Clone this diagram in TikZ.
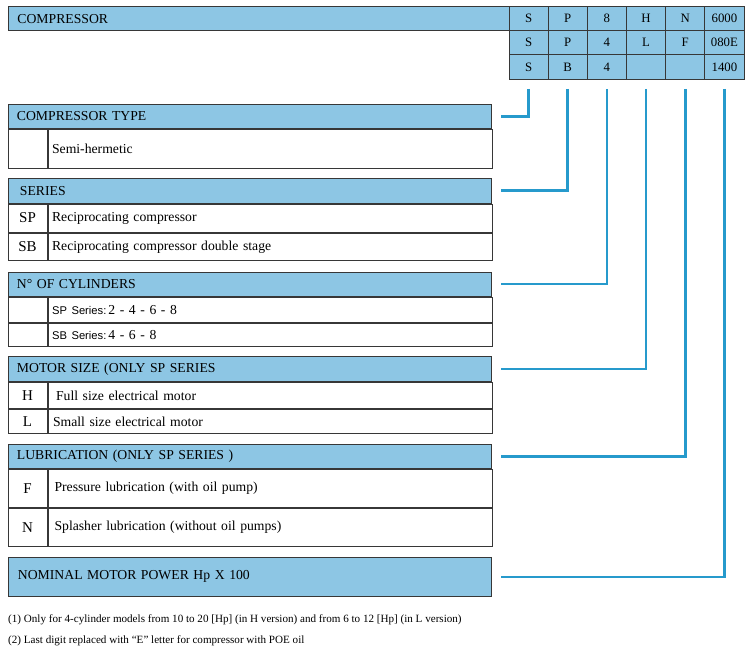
\documentclass[tikz,border=0pt]{standalone}
\usepackage{fontspec}
\setmainfont{Liberation Serif}
\newfontfamily\arialfam{Liberation Sans}
\usepackage{tikz}
\usetikzlibrary{positioning}
\definecolor{hdrblue}{RGB}{141,198,228}
\definecolor{linkblue}{RGB}{38,154,204}
\definecolor{edgegray}{RGB}{55,55,55}

\begin{document}
\begin{tikzpicture}[x=1pt,y=-1pt,
                    hdr/.style={draw=edgegray,line width=0.9pt,fill=hdrblue,anchor=north west,minimum width=483.5pt,text width=465.5pt,inner xsep=9pt,inner ysep=0pt,align=left,font=\fontsize{13.7}{15}\selectfont},
                    keycell/.style={draw=edgegray,line width=0.9pt,minimum width=39.2pt,inner sep=0pt,font=\fontsize{15}{17}\selectfont},
                    desc/.style={draw=edgegray,line width=0.9pt,minimum width=444.3pt,text width=436.3pt,inner xsep=4pt,inner ysep=0pt,align=left,font=\fontsize{13.7}{15}\selectfont},
                    cell/.style={draw=edgegray,line width=0.9pt,fill=hdrblue,minimum width=39.17pt,minimum height=24.43pt,inner sep=0pt,font=\fontsize{12.8}{14}\selectfont},
                    link/.style={draw=linkblue,line width=2.6pt},
                    note/.style={anchor=west,inner sep=0pt,font=\fontsize{11.1}{13}\selectfont}]
                    \useasboundingbox (0,0) rectangle (750,661);
                    \node [hdr,minimum width=501pt,text width=483pt,minimum height=24.5pt] (topbar) at (8,6) {COMPRESSOR};
                    \node [cell] (tS1) at (528.6,18.2) {S};
                    \node [cell] (tP1) at (567.75,18.2) {P};
                    \node [cell] (tC1) at (606.9,18.2) {8};
                    \node [cell] (tM1) at (646.1,18.2) {H};
                    \node [cell] (tL1) at (685.25,18.2) {N};
                    \node [cell] (tW1) at (724.4,18.2) {6000};
                    \node [cell] (tS2) at (528.6,42.6) {S};
                    \node [cell] (tP2) at (567.75,42.6) {P};
                    \node [cell] (tC2) at (606.9,42.6) {4};
                    \node [cell] (tM2) at (646.1,42.6) {L};
                    \node [cell] (tL2) at (685.25,42.6) {F};
                    \node [cell] (tW2) at (724.4,42.6) {080E};
                    \node [cell] (tS3) at (528.6,67.1) {S};
                    \node [cell] (tP3) at (567.75,67.1) {B};
                    \node [cell] (tC3) at (606.9,67.1) {4};
                    \node [cell] (tM3) at (646.1,67.1) {};
                    \node [cell] (tL3) at (685.25,67.1) {};
                    \node [cell] (tW3) at (724.4,67.1) {1400};

                    \node [hdr,minimum height=23.7pt] (hdType) at (7.5,104) {COMPRESSOR TYPE};
                    \node [keycell,minimum height=39.6pt,below right=0pt and 0pt of hdType.south west] (kType) {};
                    \node [desc,minimum height=39.6pt,right=0pt of kType] (dType) {Semi-hermetic};

                    \node [hdr,minimum height=25pt] (hdSeries) at (7.5,177.7) {\hspace*{3pt}SERIES};
                    \node [keycell,minimum height=28pt,below right=0pt and 0pt of hdSeries.south west] (kSP) {SP};
                    \node [desc,minimum height=28pt,right=0pt of kSP] (dSP) {Reciprocating compressor};
                    \node [keycell,minimum height=27.6pt,below=0pt of kSP] (kSB) {SB};
                    \node [desc,minimum height=27.6pt,right=0pt of kSB] (dSB) {Reciprocating compressor double stage};

                    \node [hdr,minimum height=24pt] (hdCyl) at (7.5,271.7) {N° OF CYLINDERS};
                    \node [keycell,minimum height=25pt,below right=0pt and 0pt of hdCyl.south west] (kCyl1) {};
                    \node [desc,minimum height=25pt,right=0pt of kCyl1] (dCyl1) {{\arialfam\fontsize{11.2}{13}\selectfont SP Series:}\hspace{2pt}2 - 4 - 6 - 8};
                    \node [keycell,minimum height=23.3pt,below=0pt of kCyl1] (kCyl2) {};
                    \node [desc,minimum height=23.3pt,right=0pt of kCyl2] (dCyl2) {{\arialfam\fontsize{11.2}{13}\selectfont SB Series:}\hspace{2pt}4 - 6 - 8};

                    \node [hdr,minimum height=25.3pt] (hdMotor) at (7.5,356) {MOTOR SIZE (ONLY SP SERIES};
                    \node [keycell,minimum height=26pt,below right=0pt and 0pt of hdMotor.south west] (kH) {H};
                    \node [desc,minimum height=26pt,right=0pt of kH] (dH) {\hspace*{4pt}Full size electrical motor};
                    \node [keycell,minimum height=23.7pt,below=0pt of kH] (kL) {L};
                    \node [desc,minimum height=23.7pt,right=0pt of kL] (dL) {\hspace*{1pt}Small size electrical motor};

                    \node [hdr,minimum height=24.3pt] (hdLub) at (7.5,443.7) {LUBRICATION (ONLY SP SERIES )};
                    \node [keycell,minimum height=38pt,below right=0pt and 0pt of hdLub.south west] (kF) {F};
                    \node [desc,minimum height=38pt,right=0pt of kF] (dF) {\hspace*{2.5pt}Pressure lubrication (with oil pump)};
                    \node [keycell,minimum height=38.3pt,below=0pt of kF] (kN) {N};
                    \node [desc,minimum height=38.3pt,right=0pt of kN] (dN) {\hspace*{2.5pt}Splasher lubrication (without oil pumps)};

                    \node [hdr,minimum height=38.7pt] (hdPower) at (7.5,557) {\hspace*{1pt}NOMINAL MOTOR POWER Hp X 100};

                    \node [note] (fnA) at (8,620) {(1) Only for 4-cylinder models from 10 to 20 [Hp] (in H version) and from 6 to 12 [Hp] (in L version)};
                    \node [note] (fnB) at (8,641) {(2) Last digit replaced with “E” letter for compressor with POE oil};

                    \draw [link] ([yshift=-9pt]tS3.south) |- ([xshift=9.5pt]hdType.east);
                    \draw [link] ([yshift=-9pt]tP3.south) |- ([xshift=9.5pt]hdSeries.east);
                    \draw [link] ([yshift=-9pt]tC3.south) |- ([xshift=9.5pt]hdCyl.east);
                    \draw [link] ([yshift=-9pt]tM3.south) |- ([xshift=9.5pt]hdMotor.east);
                    \draw [link] ([yshift=-9pt]tL3.south) |- ([xshift=9.5pt]hdLub.east);
                    \draw [link] ([yshift=-9pt]tW3.south) |- ([xshift=9.5pt]hdPower.east);
                \end{tikzpicture}
\end{document}
